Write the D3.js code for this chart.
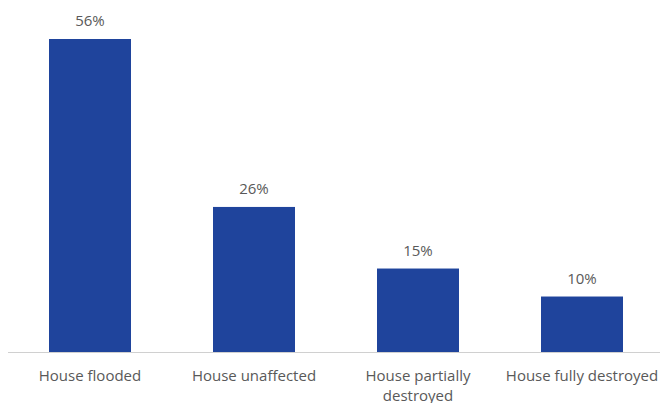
<!DOCTYPE html>
<html>
<head>
<meta charset="utf-8">
<script src="https://cdn.jsdelivr.net/npm/d3@7"></script>
<style>
  body { margin: 0; background: #fff; }
  svg text { font-family: "Open Sans", "Noto Sans", sans-serif; fill: #595959; }
</style>
</head>
<body>
<svg width="660" height="403"></svg>
<script>
const categories = ['House flooded', 'House unaffected', 'House partially destroyed', 'House fully destroyed'];
const values = [56, 26, 15, 10];
const valueLabels = ['56%', '26%', '15%', '10%'];

const svg = d3.select('svg');
const baseY = 352.5;

const x = d3.scaleBand()
    .domain(categories)
    .range([8, 664])
    .paddingInner(0.5)
    .paddingOuter(0.25);

const y = d3.scaleLinear()
    .domain([0, 56])
    .range([baseY, 39]);

// Bars
svg.selectAll('.bar')
    .data(values)
    .enter()
    .append('rect')
    .attr('class', 'bar')
    .attr('x', (d, i) => x(categories[i]))
    .attr('y', d => y(d))
    .attr('width', x.bandwidth())
    .attr('height', d => baseY - y(d))
    .attr('fill', '#1f449c');

// Axis line
svg.append('line')
    .attr('x1', 8)
    .attr('x2', 660)
    .attr('y1', baseY)
    .attr('y2', baseY)
    .attr('stroke', '#d0d0d0')
    .attr('stroke-width', 1);

// Value labels
svg.selectAll('.value-label')
    .data(values)
    .enter()
    .append('text')
    .attr('class', 'value-label')
    .attr('x', (d, i) => x(categories[i]) + x.bandwidth() / 2)
    .attr('y', d => y(d) - 13)
    .attr('text-anchor', 'middle')
    .style('font-size', '15px')
    .text((d, i) => valueLabels[i]);

// Category labels (wrap long ones)
const wraps = {'House partially destroyed': ['House partially', 'destroyed']};
categories.forEach(c => {
    const lines = wraps[c] || [c];
    const t = svg.append('text')
        .attr('x', x(c) + x.bandwidth() / 2)
        .attr('y', 381)
        .attr('text-anchor', 'middle')
        .style('font-size', '15px');
    lines.forEach((l, i) => {
        t.append('tspan')
            .attr('x', x(c) + x.bandwidth() / 2)
            .attr('dy', i === 0 ? 0 : 20)
            .text(l);
    });
});
</script>
</body>
</html>
